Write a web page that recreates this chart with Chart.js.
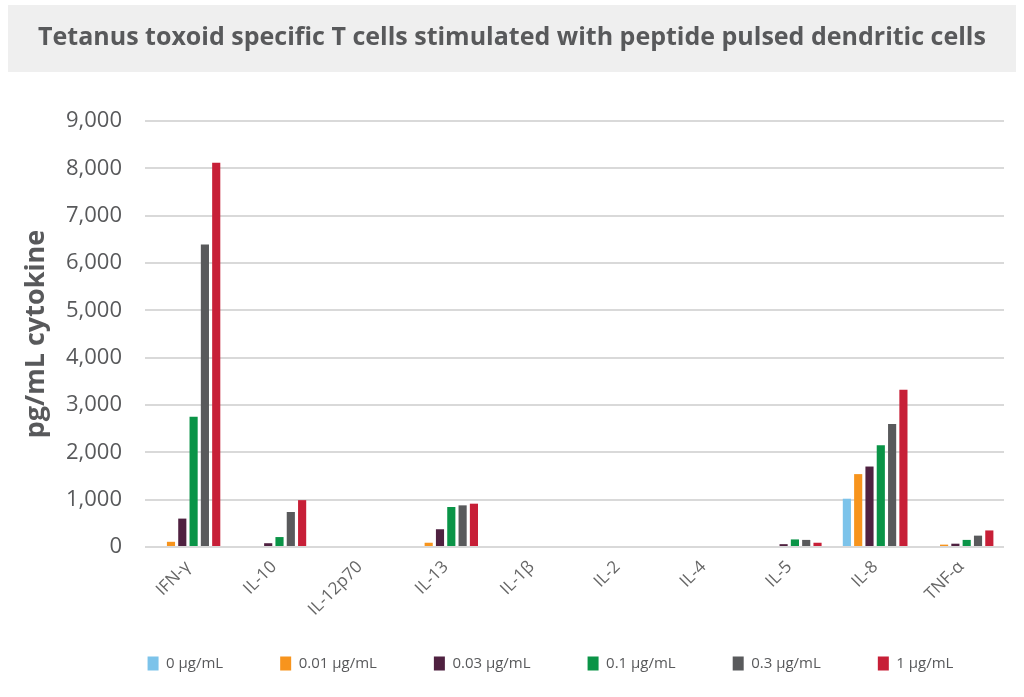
<!DOCTYPE html>
<html>
<head>
<meta charset="utf-8">
<script src="https://cdn.jsdelivr.net/npm/chart.js@4"></script>
<style>
html,body{margin:0;padding:0;background:#fff;}
#wrap{width:1024px;height:697px;position:relative;}
</style>
</head>
<body>
<div id="wrap"><canvas id="c" width="1024" height="697"></canvas></div>
<script>
const categories = ["IFN-\u03B3","IL-10","IL-12p70","IL-13","IL-1\u03B2","IL-2","IL-4","IL-5","IL-8","TNF-\u03B1"];
const seriesNames = ["0 \u00B5g/mL","0.01 \u00B5g/mL","0.03 \u00B5g/mL","0.1 \u00B5g/mL","0.3 \u00B5g/mL","1 \u00B5g/mL"];
const conc0    = [0, 0, 0, 0, 0, 0, 0, 0, 1020, 0];
const conc001  = [110, 0, 0, 90, 0, 0, 0, 0, 1540, 50];
const conc003  = [600, 80, 0, 375, 0, 0, 0, 60, 1700, 70];
const conc01   = [2750, 210, 0, 845, 0, 0, 0, 160, 2150, 150];
const conc03   = [6390, 740, 0, 880, 0, 0, 0, 150, 2600, 240];
const conc1    = [8120, 990, 0, 915, 0, 0, 0, 90, 3320, 350];
const yTicks = [0,1000,2000,3000,4000,5000,6000,7000,8000,9000];
const colors = ["#7cc3ea","#f7941d","#4f2140","#0a9447","#595a5c","#c71f37"];

const values = [conc0, conc001, conc003, conc01, conc03, conc1];

const titleBg = {
  id: 'titleBg',
  beforeDraw(chart){
    const ctx = chart.ctx;
    ctx.save();
    ctx.fillStyle = '#efefef';
    ctx.fillRect(8, 5, 1008, 67);
    ctx.restore();
    // let rotated x labels extend below the (compact) x-axis box without clipping
    if (chart.scales.x) chart.scales.x.bottom = chart.height;
  },
  afterLayout(chart){
    // center the legend under the plot area rather than the full canvas
    const lg = chart.legend;
    if (lg) {
      const shift = (chart.chartArea.left + chart.chartArea.right) / 2 - (lg.left + lg.right) / 2 - 24;
      lg.left += shift; lg.right += shift;
    }
  }
};

new Chart(document.getElementById('c'), {
  type: 'bar',
  data: {
    labels: categories,
    datasets: seriesNames.map((n,i)=>({
      label: n,
      data: values[i],
      backgroundColor: colors[i],
      borderWidth: 0,
      categoryPercentage: 0.79,
      barPercentage: 0.72
    }))
  },
  options: {
    responsive: false,
    animation: false,
    devicePixelRatio: 1,
    layout: { padding: { left: 20, right: 20, top: 10, bottom: 16 } },
    plugins: {
      title: {
        display: true,
        text: 'Tetanus toxoid specific T cells stimulated with peptide pulsed dendritic cells',
        color: '#58595b',
        font: { family: 'Open Sans', size: 25, weight: 'bold' },
        padding: { top: 13, bottom: 68 }
      },
      legend: {
        position: 'bottom',
        labels: {
          color: '#58595b',
          font: { family: 'Open Sans', size: 15 },
          boxWidth: 11,
          boxHeight: 14,
          padding: 57
        }
      },
      tooltip: { enabled: false }
    },
    scales: {
      x: {
        grid: { display: false, drawTicks: false },
        border: { display: false },
        afterFit(scale){ scale.height = 52; scale.paddingLeft = 0; scale.paddingRight = 0; },
        ticks: {
          color: '#666',
          font: { family: 'Open Sans', size: 17 },
          maxRotation: 45, minRotation: 45,
          autoSkip: false,
          padding: 10
        }
      },
      y: {
        min: 0, max: 9000,
        afterBuildTicks(axis){ axis.ticks = yTicks.map(v=>({value:v})); },
        afterFit(scale){ scale.width = 125; },
        grid: { color: '#d9d9d9', lineWidth: 2, drawTicks: false },
        border: { display: false },
        ticks: {
          color: '#58595b',
          font: { family: 'Open Sans', size: 22 },
          padding: 23,
          callback: v => v.toLocaleString('en-US')
        },
        title: {
          display: true,
          text: 'pg/mL cytokine',
          color: '#58595b',
          font: { family: 'Open Sans', size: 27, weight: 'bold' },
          padding: { top: 0, bottom: 6 }
        }
      }
    }
  },
  plugins: [titleBg]
});
</script>
</body>
</html>
